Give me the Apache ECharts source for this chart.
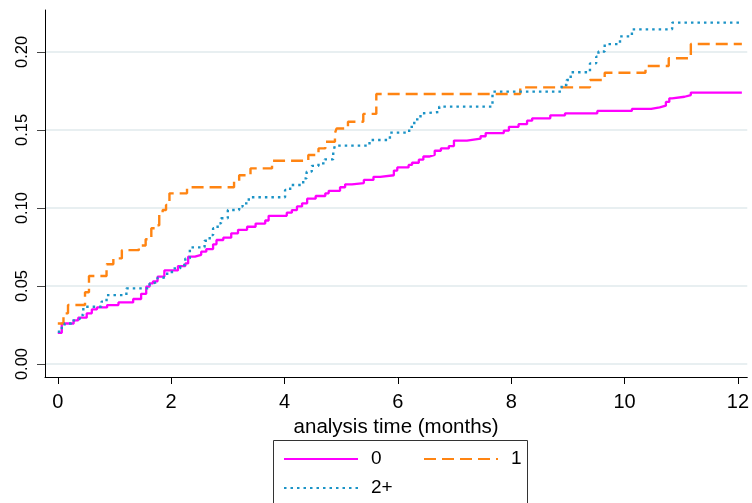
<!DOCTYPE html>
<html>
<head>
<meta charset="utf-8">
<script src="https://cdn.jsdelivr.net/npm/echarts@6/dist/echarts.min.js"></script>
<style>
html,body{margin:0;padding:0;background:#fff;}
#chart{width:752px;height:503px;}
</style>
</head>
<body>
<div id="chart"></div>
<script>
// ---- data ----
const seriesNames = ['0', '1', '2+'];
const xTicks = [0, 2, 4, 6, 8, 10, 12];
const yTicks = [0, 0.05, 0.10, 0.15, 0.20];
const xTitle = 'analysis time (months)';

const g0Time = [0, 0.07, 0.28, 0.36, 0.51, 0.60, 0.69, 0.87, 1.07, 1.33, 1.47, 1.56, 1.62, 1.68, 1.76, 1.88,
  2.12, 2.25, 2.30, 2.42, 2.53, 2.62, 2.74, 2.80, 2.92, 3.06, 3.18, 3.34, 3.49, 3.66, 3.72, 4.04, 4.13, 4.22,
  4.31, 4.40, 4.55, 4.72, 4.78, 4.98, 5.07, 5.19, 5.40, 5.57, 5.69, 5.93, 5.99, 6.19, 6.25, 6.37, 6.45, 6.55,
  6.65, 6.76, 6.90, 6.99, 7.22, 7.46, 7.55, 7.87, 7.96, 8.13, 8.28, 8.37, 8.69, 8.95, 9.52, 10.13, 10.47,
  10.62, 10.73, 10.79, 10.84, 11.06, 11.17, 12.07];
const g0Risk = [0.020, 0.026, 0.028, 0.0297, 0.0325, 0.035, 0.0363, 0.0378, 0.0395, 0.0417, 0.045, 0.0496,
  0.0517, 0.053, 0.056, 0.060, 0.0628, 0.0645, 0.0688, 0.070, 0.072, 0.0737, 0.0767, 0.0795, 0.081, 0.0838,
  0.086, 0.088, 0.090, 0.092, 0.095, 0.097, 0.0987, 0.101, 0.103, 0.106, 0.1077, 0.1094, 0.111, 0.1133,
  0.1152, 0.116, 0.118, 0.120, 0.121, 0.124, 0.126, 0.1276, 0.129, 0.131, 0.133, 0.134, 0.1367, 0.1382,
  0.1397, 0.1432, 0.1444, 0.146, 0.148, 0.1496, 0.152, 0.1537, 0.156, 0.1575, 0.1594, 0.1607, 0.1622,
  0.1635, 0.1645, 0.1656, 0.168, 0.1703, 0.1713, 0.1724, 0.174, 0.174];

const g1Time = [0, 0.10, 0.18, 0.48, 0.55, 0.86, 0.98, 1.13, 1.43, 1.55, 1.65, 1.73, 1.79, 1.85, 1.91, 1.97,
  2.28, 3.11, 3.20, 3.40, 3.78, 4.42, 4.60, 4.72, 4.89, 4.92, 5.12, 5.39, 5.62, 8.16, 9.39, 9.65, 10.37,
  10.78, 11.17, 12.07];
const g1Risk = [0.026, 0.0325, 0.0378, 0.046, 0.0564, 0.064, 0.0677, 0.073, 0.076, 0.080, 0.087, 0.089,
  0.0966, 0.0987, 0.102, 0.1094, 0.1133, 0.117, 0.121, 0.1254, 0.1303, 0.134, 0.1382, 0.1425, 0.148, 0.151,
  0.1553, 0.1603, 0.1731, 0.1773, 0.182, 0.1867, 0.191, 0.196, 0.2051, 0.2051];

const g2Time = [0, 0.07, 0.12, 0.24, 0.30, 0.39, 0.45, 0.77, 0.86, 1.21, 1.62, 1.68, 1.76, 1.85, 1.93, 2.04,
  2.16, 2.25, 2.33, 2.59, 2.68, 2.74, 2.82, 2.88, 3.00, 3.20, 3.26, 3.37, 4.01, 4.10, 4.33, 4.39, 4.48, 4.60,
  4.71, 4.86, 4.89, 5.50, 5.86, 6.20, 6.29, 6.40, 6.46, 6.73, 7.67, 8.89, 8.98, 9.05, 9.39, 9.50, 9.54,
  9.65, 9.92, 10.13, 10.84, 12.07];
const g2Risk = [0.0207, 0.024, 0.026, 0.028, 0.029, 0.0314, 0.0367, 0.040, 0.0442, 0.0485, 0.0517, 0.0527,
  0.0553, 0.056, 0.059, 0.0613, 0.0635, 0.0677, 0.0748, 0.079, 0.0827, 0.087, 0.0902, 0.0934, 0.0987,
  0.101, 0.103, 0.1069, 0.1115, 0.1147, 0.119, 0.1233, 0.127, 0.1286, 0.1312, 0.136, 0.140, 0.1436,
  0.1483, 0.152, 0.1568, 0.1607, 0.1615, 0.165, 0.1746, 0.1788, 0.182, 0.187, 0.1927, 0.197, 0.2003,
  0.205, 0.210, 0.2145, 0.2188, 0.2188];

// ---- build ----
const pairs = (ts, vs) => ts.map((t, i) => [t, vs[i]]);
const FONT = "'Liberation Sans', Arial, sans-serif";

const chart = echarts.init(document.getElementById('chart'), null, {renderer: 'canvas'});

function legendFor(name, left, top) {
  return {
    data: [name], left: left, top: top, orient: 'horizontal',
    itemWidth: 74, itemHeight: 20, padding: 0,
    selectedMode: false,
    itemStyle: {opacity: 0},
    textStyle: {fontFamily: FONT, fontSize: 19, color: '#000', padding: [0, 0, 0, 8], lineHeight: 20}
  };
}

const option = {
  animation: false,
  backgroundColor: '#fff',
  grid: {left: 45, top: 10, right: 0, bottom: 126, containLabel: false},
  graphic: [{
    type: 'rect', z: 0, silent: true,
    shape: {x: 273.5, y: 440.5, width: 254, height: 80},
    style: {fill: '#fff', stroke: '#333', lineWidth: 1}
  }],
  legend: [
    legendFor(seriesNames[0], 283, 449),
    legendFor(seriesNames[1], 423, 449),
    legendFor(seriesNames[2], 283, 478)
  ],
  xAxis: {
    type: 'value', min: -0.226, max: 12.166,
    name: xTitle, nameLocation: 'middle', nameGap: 32,
    nameTextStyle: {fontFamily: FONT, fontSize: 20.5, color: '#000'},
    axisLine: {show: true, onZero: false, lineStyle: {color: '#000', width: 1}},
    axisTick: {show: true, length: 7, lineStyle: {color: '#000'}, customValues: xTicks},
    axisLabel: {customValues: xTicks, fontFamily: FONT, fontSize: 20, color: '#000', margin: 15,
      formatter: v => String(Math.round(v))},
    splitLine: {show: false}
  },
  yAxis: {
    type: 'value', min: -0.0083, max: 0.2269,
    axisLine: {show: true, onZero: false, lineStyle: {color: '#000', width: 1}},
    axisTick: {show: true, length: 8, lineStyle: {color: '#444'}, customValues: yTicks},
    axisLabel: {customValues: yTicks, rotate: 90, fontFamily: FONT, fontSize: 16.5, color: '#000', margin: 14,
      formatter: v => v.toFixed(2)},
    splitLine: {show: true, lineStyle: {color: '#e8eff1', width: 2}}
  },
  series: [
    {
      name: seriesNames[0], type: 'line', step: 'end', symbol: 'none', showSymbol: false,
      data: pairs(g0Time, g0Risk), z: 3,
      lineStyle: {color: '#ff00ff', width: 2.3, type: 'solid'}, itemStyle: {color: '#ff00ff'}
    },
    {
      name: seriesNames[1], type: 'line', step: 'end', symbol: 'none', showSymbol: false,
      data: pairs(g1Time, g1Risk), z: 4,
      lineStyle: {color: '#ff8412', width: 2.4, type: [12, 6]}, itemStyle: {color: '#ff8412'}
    },
    {
      name: seriesNames[2], type: 'line', step: 'end', symbol: 'none', showSymbol: false,
      data: pairs(g2Time, g2Risk), z: 5,
      lineStyle: {color: '#1b93c6', width: 2.4, type: [2.5, 4]}, itemStyle: {color: '#1b93c6'}
    }
  ]
};
chart.setOption(option);
</script>
</body>
</html>
